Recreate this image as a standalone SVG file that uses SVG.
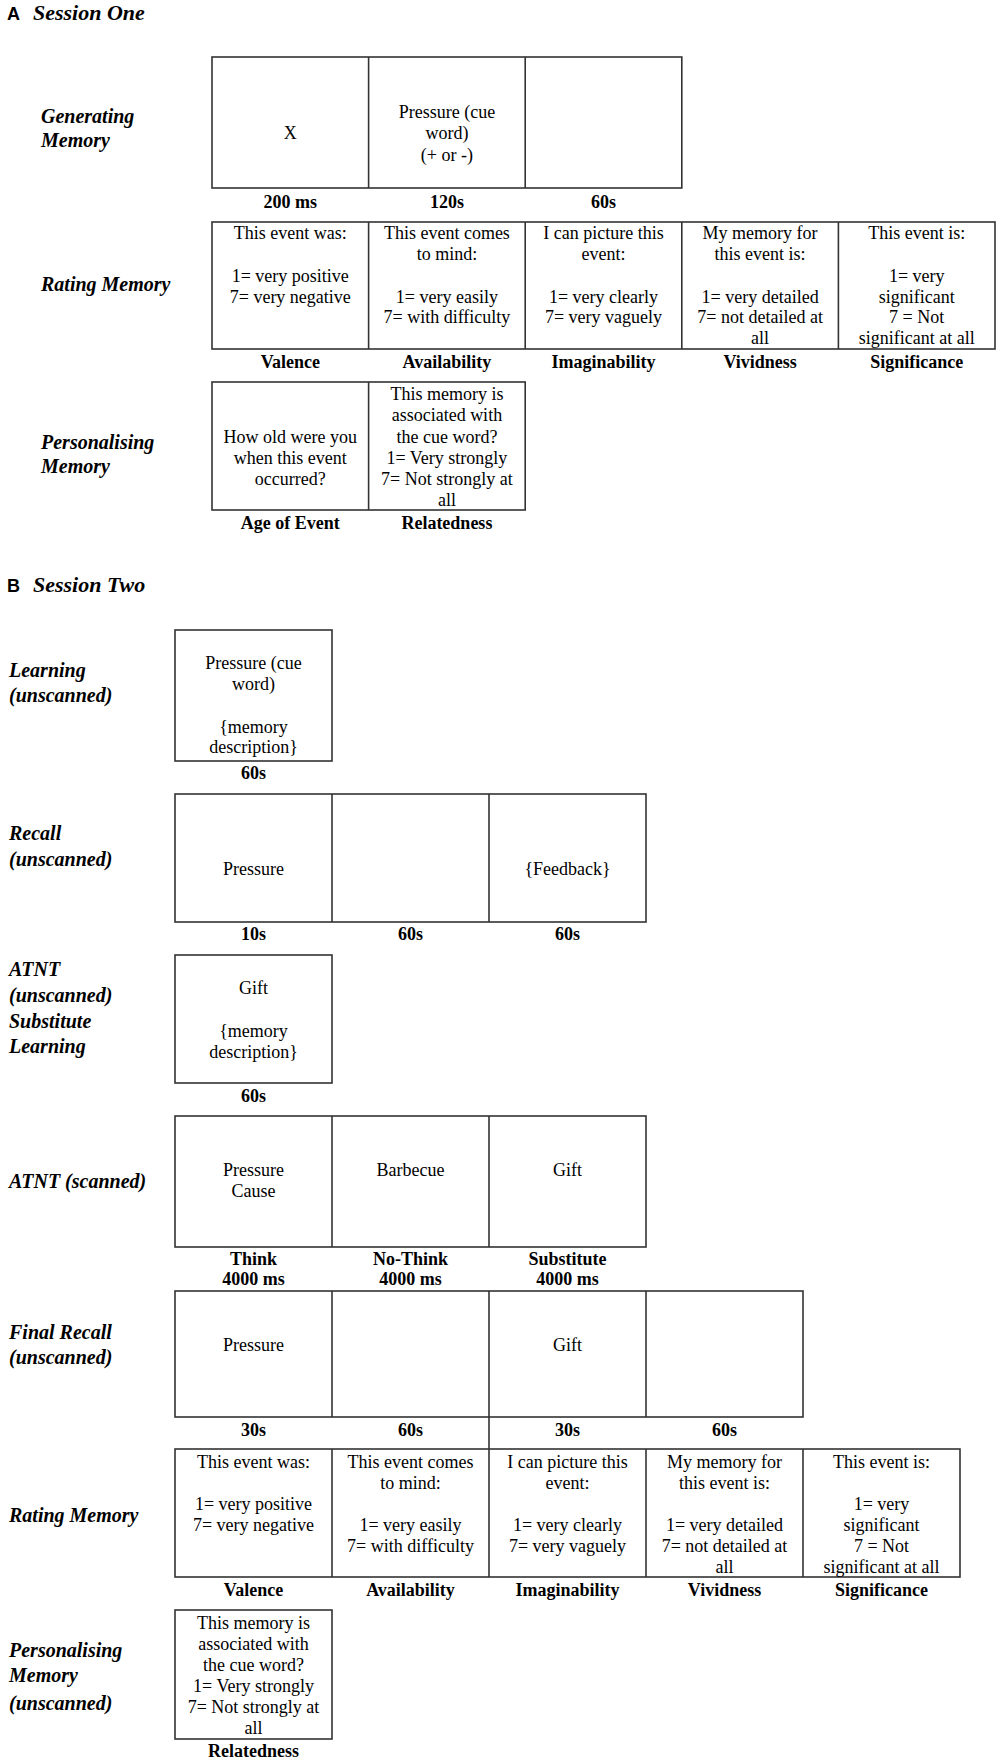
<svg xmlns="http://www.w3.org/2000/svg" width="1000" height="1760" viewBox="0 0 1000 1760">
<style>
.bg{fill:#fff}
.box{fill:#fff;stroke:#333;stroke-width:1.6}
.div{stroke:#333;stroke-width:1.6;fill:none}
.lbl{font-family:"Liberation Serif",serif;font-weight:bold;font-style:italic;font-size:20px;fill:#000}
.cell{font-family:"Liberation Serif",serif;font-size:18px;text-anchor:middle;fill:#000}
.cap{font-family:"Liberation Serif",serif;font-weight:bold;font-size:18px;text-anchor:middle;fill:#000}
.sec{font-family:"Liberation Sans",sans-serif;font-weight:bold;font-size:18px;fill:#000}
.sect{font-family:"Liberation Serif",serif;font-weight:bold;font-style:italic;font-size:22px;fill:#000}
</style>
<rect class="bg" x="0" y="0" width="1000" height="1760"/>

<g id="titleA">
<text class="sec" x="7" y="20">A</text>
<text class="sect" x="33" y="20">Session One</text>
</g>

<g id="A-generating">
<text class="lbl" x="41" y="123">Generating</text>
<text class="lbl" x="41" y="147">Memory</text>
<rect class="box" x="212" y="57" width="469.8" height="131"/>
<line class="div" x1="368.6" y1="57" x2="368.6" y2="188"/>
<line class="div" x1="525.2" y1="57" x2="525.2" y2="188"/>
<text class="cell" x="290.3" y="139">X</text>
<text class="cell" x="446.9" y="118">Pressure (cue</text>
<text class="cell" x="446.9" y="139">word)</text>
<text class="cell" x="446.9" y="161">(+ or -)</text>
<text class="cap" x="290.3" y="208">200 ms</text>
<text class="cap" x="446.9" y="208">120s</text>
<text class="cap" x="603.5" y="208">60s</text>
</g>

<g id="A-rating">
<text class="lbl" x="41" y="291">Rating Memory</text>
<rect class="box" x="212" y="222" width="783" height="127"/>
<line class="div" x1="368.6" y1="222" x2="368.6" y2="349"/>
<line class="div" x1="525.2" y1="222" x2="525.2" y2="349"/>
<line class="div" x1="681.8" y1="222" x2="681.8" y2="349"/>
<line class="div" x1="838.4" y1="222" x2="838.4" y2="349"/>
<text class="cell" x="290.3" y="239">This event was:</text>
<text class="cell" x="290.3" y="282">1= very positive</text>
<text class="cell" x="290.3" y="303">7= very negative</text>
<text class="cell" x="446.9" y="239">This event comes</text>
<text class="cell" x="446.9" y="260">to mind:</text>
<text class="cell" x="446.9" y="303">1= very easily</text>
<text class="cell" x="446.9" y="323">7= with difficulty</text>
<text class="cell" x="603.5" y="239">I can picture this</text>
<text class="cell" x="603.5" y="260">event:</text>
<text class="cell" x="603.5" y="303">1= very clearly</text>
<text class="cell" x="603.5" y="323">7= very vaguely</text>
<text class="cell" x="760.1" y="239">My memory for</text>
<text class="cell" x="760.1" y="260">this event is:</text>
<text class="cell" x="760.1" y="303">1= very detailed</text>
<text class="cell" x="760.1" y="323">7= not detailed at</text>
<text class="cell" x="760.1" y="344">all</text>
<text class="cell" x="916.7" y="239">This event is:</text>
<text class="cell" x="916.7" y="282">1= very</text>
<text class="cell" x="916.7" y="303">significant</text>
<text class="cell" x="916.7" y="323">7 = Not</text>
<text class="cell" x="916.7" y="344">significant at all</text>
<text class="cap" x="290.3" y="368">Valence</text>
<text class="cap" x="446.9" y="368">Availability</text>
<text class="cap" x="603.5" y="368">Imaginability</text>
<text class="cap" x="760.1" y="368">Vividness</text>
<text class="cap" x="916.7" y="368">Significance</text>
</g>

<g id="A-personalising">
<text class="lbl" x="41" y="449">Personalising</text>
<text class="lbl" x="41" y="473">Memory</text>
<rect class="box" x="212" y="382" width="313.2" height="128"/>
<line class="div" x1="368.6" y1="382" x2="368.6" y2="510"/>
<text class="cell" x="290.3" y="443">How old were you</text>
<text class="cell" x="290.3" y="464">when this event</text>
<text class="cell" x="290.3" y="485">occurred?</text>
<text class="cell" x="446.9" y="400">This memory is</text>
<text class="cell" x="446.9" y="421">associated with</text>
<text class="cell" x="446.9" y="443">the cue word?</text>
<text class="cell" x="446.9" y="464">1= Very strongly</text>
<text class="cell" x="446.9" y="485">7= Not strongly at</text>
<text class="cell" x="446.9" y="506">all</text>
<text class="cap" x="290.3" y="529">Age of Event</text>
<text class="cap" x="446.9" y="529">Relatedness</text>
</g>

<g id="titleB">
<text class="sec" x="7" y="592">B</text>
<text class="sect" x="33" y="592">Session Two</text>
</g>

<g id="B-learning">
<text class="lbl" x="9" y="677">Learning</text>
<text class="lbl" x="9" y="702">(unscanned)</text>
<rect class="box" x="175" y="630" width="157" height="131"/>
<text class="cell" x="253.5" y="669">Pressure (cue</text>
<text class="cell" x="253.5" y="690">word)</text>
<text class="cell" x="253.5" y="733">{memory</text>
<text class="cell" x="253.5" y="753">description}</text>
<text class="cap" x="253.5" y="779">60s</text>
</g>

<g id="B-recall">
<text class="lbl" x="9" y="840">Recall</text>
<text class="lbl" x="9" y="866">(unscanned)</text>
<rect class="box" x="175" y="794" width="471" height="128"/>
<line class="div" x1="332" y1="794" x2="332" y2="922"/>
<line class="div" x1="489" y1="794" x2="489" y2="922"/>
<text class="cell" x="253.5" y="875">Pressure</text>
<text class="cell" x="567.5" y="875">{Feedback}</text>
<text class="cap" x="253.5" y="940">10s</text>
<text class="cap" x="410.5" y="940">60s</text>
<text class="cap" x="567.5" y="940">60s</text>
</g>

<g id="B-atnt-substitute">
<text class="lbl" x="9" y="976">ATNT</text>
<text class="lbl" x="9" y="1002">(unscanned)</text>
<text class="lbl" x="9" y="1028">Substitute</text>
<text class="lbl" x="9" y="1053">Learning</text>
<rect class="box" x="175" y="955" width="157" height="128"/>
<text class="cell" x="253.5" y="994">Gift</text>
<text class="cell" x="253.5" y="1037">{memory</text>
<text class="cell" x="253.5" y="1058">description}</text>
<text class="cap" x="253.5" y="1102">60s</text>
</g>

<g id="B-atnt-scanned">
<text class="lbl" x="9" y="1188">ATNT (scanned)</text>
<rect class="box" x="175" y="1116" width="471" height="131"/>
<line class="div" x1="332" y1="1116" x2="332" y2="1247"/>
<line class="div" x1="489" y1="1116" x2="489" y2="1247"/>
<text class="cell" x="253.5" y="1176">Pressure</text>
<text class="cell" x="253.5" y="1197">Cause</text>
<text class="cell" x="410.5" y="1176">Barbecue</text>
<text class="cell" x="567.5" y="1176">Gift</text>
<text class="cap" x="253.5" y="1265">Think</text>
<text class="cap" x="253.5" y="1285">4000 ms</text>
<text class="cap" x="410.5" y="1265">No-Think</text>
<text class="cap" x="410.5" y="1285">4000 ms</text>
<text class="cap" x="567.5" y="1265">Substitute</text>
<text class="cap" x="567.5" y="1285">4000 ms</text>
</g>

<g id="B-final-recall">
<text class="lbl" x="9" y="1339">Final Recall</text>
<text class="lbl" x="9" y="1364">(unscanned)</text>
<rect class="box" x="175" y="1291" width="628" height="126"/>
<line class="div" x1="332" y1="1291" x2="332" y2="1417"/>
<line class="div" x1="489" y1="1291" x2="489" y2="1417"/>
<line class="div" x1="646" y1="1291" x2="646" y2="1417"/>
<text class="cell" x="253.5" y="1351">Pressure</text>
<text class="cell" x="567.5" y="1351">Gift</text>
<text class="cap" x="253.5" y="1436">30s</text>
<text class="cap" x="410.5" y="1436">60s</text>
<text class="cap" x="567.5" y="1436">30s</text>
<text class="cap" x="724.5" y="1436">60s</text>
</g>

<g id="connectors">
<line class="div" x1="489" y1="1417" x2="489" y2="1449"/>
</g>

<g id="B-rating">
<text class="lbl" x="9" y="1522">Rating Memory</text>
<rect class="box" x="175" y="1449" width="785" height="128"/>
<line class="div" x1="332" y1="1449" x2="332" y2="1577"/>
<line class="div" x1="489" y1="1449" x2="489" y2="1577"/>
<line class="div" x1="646" y1="1449" x2="646" y2="1577"/>
<line class="div" x1="803" y1="1449" x2="803" y2="1577"/>
<text class="cell" x="253.5" y="1468">This event was:</text>
<text class="cell" x="253.5" y="1510">1= very positive</text>
<text class="cell" x="253.5" y="1531">7= very negative</text>
<text class="cell" x="410.5" y="1468">This event comes</text>
<text class="cell" x="410.5" y="1489">to mind:</text>
<text class="cell" x="410.5" y="1531">1= very easily</text>
<text class="cell" x="410.5" y="1552">7= with difficulty</text>
<text class="cell" x="567.5" y="1468">I can picture this</text>
<text class="cell" x="567.5" y="1489">event:</text>
<text class="cell" x="567.5" y="1531">1= very clearly</text>
<text class="cell" x="567.5" y="1552">7= very vaguely</text>
<text class="cell" x="724.5" y="1468">My memory for</text>
<text class="cell" x="724.5" y="1489">this event is:</text>
<text class="cell" x="724.5" y="1531">1= very detailed</text>
<text class="cell" x="724.5" y="1552">7= not detailed at</text>
<text class="cell" x="724.5" y="1573">all</text>
<text class="cell" x="881.5" y="1468">This event is:</text>
<text class="cell" x="881.5" y="1510">1= very</text>
<text class="cell" x="881.5" y="1531">significant</text>
<text class="cell" x="881.5" y="1552">7 = Not</text>
<text class="cell" x="881.5" y="1573">significant at all</text>
<text class="cap" x="253.5" y="1596">Valence</text>
<text class="cap" x="410.5" y="1596">Availability</text>
<text class="cap" x="567.5" y="1596">Imaginability</text>
<text class="cap" x="724.5" y="1596">Vividness</text>
<text class="cap" x="881.5" y="1596">Significance</text>
</g>

<g id="B-personalising">
<text class="lbl" x="9" y="1657">Personalising</text>
<text class="lbl" x="9" y="1682">Memory</text>
<text class="lbl" x="9" y="1710">(unscanned)</text>
<rect class="box" x="175" y="1610" width="157" height="129"/>
<text class="cell" x="253.5" y="1629">This memory is</text>
<text class="cell" x="253.5" y="1650">associated with</text>
<text class="cell" x="253.5" y="1671">the cue word?</text>
<text class="cell" x="253.5" y="1692">1= Very strongly</text>
<text class="cell" x="253.5" y="1713">7= Not strongly at</text>
<text class="cell" x="253.5" y="1734">all</text>
<text class="cap" x="253.5" y="1757">Relatedness</text>
</g>
</svg>
